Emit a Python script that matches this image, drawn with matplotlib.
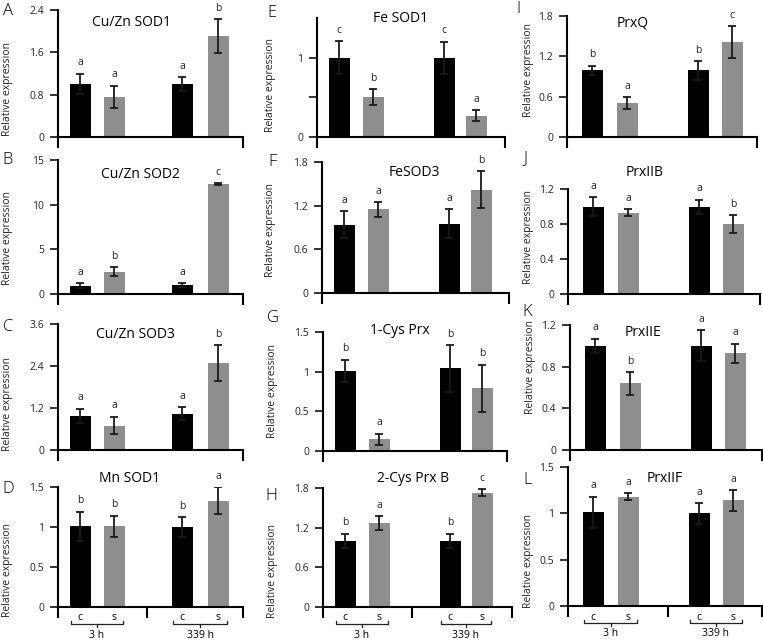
import matplotlib.pyplot as plt

plt.rcParams['font.family'] = ['Open Sans', 'DejaVu Sans']

# genes (panels A-L)
genes = ['Cu/Zn SOD1', 'Cu/Zn SOD2', 'Cu/Zn SOD3', 'Mn SOD1',
         'Fe SOD1', 'FeSOD3', '1-Cys Prx', '2-Cys Prx B',
         'PrxQ', 'PrxIIB', 'PrxIIE', 'PrxIIF']
panel_ids = ['A', 'B', 'C', 'D', 'E', 'F', 'G', 'H', 'I', 'J', 'K', 'L']
groups = ['3 h', '339 h']
treatments = ['c', 's']

# relative expression, control / stress at 3 h and 339 h
c3_mean = [1.01, 0.95, 0.97, 1.01, 1.00, 0.94, 1.01, 1.00, 0.99, 1.00, 1.00, 1.01]
s3_mean = [0.76, 2.50, 0.70, 1.01, 0.50, 1.15, 0.15, 1.27, 0.50, 0.93, 0.64, 1.18]
c339_mean = [1.00, 1.00, 1.04, 1.00, 1.00, 0.95, 1.04, 1.00, 0.99, 1.00, 1.00, 1.00]
s339_mean = [1.91, 12.30, 2.48, 1.33, 0.27, 1.42, 0.79, 1.73, 1.41, 0.80, 0.93, 1.14]

c3_err = [0.19, 0.25, 0.21, 0.18, 0.21, 0.18, 0.14, 0.11, 0.07, 0.11, 0.07, 0.17]
s3_err = [0.21, 0.50, 0.25, 0.13, 0.10, 0.10, 0.07, 0.10, 0.09, 0.04, 0.11, 0.04]
c339_err = [0.13, 0.20, 0.18, 0.12, 0.20, 0.20, 0.29, 0.11, 0.14, 0.08, 0.15, 0.11]
s339_err = [0.32, 0.12, 0.52, 0.17, 0.07, 0.25, 0.30, 0.05, 0.24, 0.10, 0.09, 0.11]

c3_sig = ['a', 'a', 'a', 'b', 'c', 'a', 'b', 'b', 'b', 'a', 'a', 'a']
s3_sig = ['a', 'b', 'a', 'b', 'b', 'a', 'a', 'a', 'a', 'a', 'b', 'a']
c339_sig = ['a', 'a', 'a', 'b', 'c', 'a', 'b', 'b', 'b', 'a', 'a', 'a']
s339_sig = ['b', 'c', 'b', 'a', 'a', 'b', 'b', 'c', 'c', 'b', 'a', 'a']

y_max = [2.4, 15, 3.6, 1.5, 1.5, 1.8, 1.5, 1.8, 1.8, 1.2, 1.2, 1.5]
y_ticks = [[0, 0.8, 1.6, 2.4], [0, 5, 10, 15], [0, 1.2, 2.4, 3.6], [0, 0.5, 1, 1.5],
           [0, 0.5, 1], [0, 0.6, 1.2, 1.8], [0, 0.5, 1, 1.5], [0, 0.6, 1.2, 1.8],
           [0, 0.6, 1.2, 1.8], [0, 0.4, 0.8, 1.2], [0, 0.4, 0.8, 1.2], [0, 0.5, 1, 1.5]]

# layout in pixels
W, H = 763, 642
spine_x = [58, 58, 58, 58, 317, 322, 323, 323, 567, 568, 570, 568]
zero_y = [137, 294, 450, 607, 137, 293, 451, 607, 137, 294, 450, 606]
top_y = [10, 160, 324, 487, 18, 162, 332, 488, 16, 189, 325, 467]
end_x = [243, 243, 243, 243, 505, 509, 507, 512, 757, 760, 762, 762]
bar_pos = [[22, 56, 124, 160], [22, 56, 127, 159], [25, 60, 131, 165]]
mid_tick = [89, 89, 100]
title_xy = [(131, 22), (140, 175), (135, 335), (130, 478), (401, 19), (414, 172),
            (400, 331), (413, 478), (633, 23), (645, 173), (643, 333), (665, 478)]
ylab_xy = [(8, 89), (8, 238), (8, 404), (8, 570), (271, 85), (271, 230),
           (272, 391), (272, 571), (529, 70), (529, 237), (530, 367), (529, 561)]
letter_xy = [(8, 11), (8, 160), (8, 327), (8, 489), (272, 13), (272, 162),
             (273, 318), (271, 496), (518, 9), (526, 158), (527, 312), (528, 480)]

black = '#000000'
gray = '#8e8e8e'

fig = plt.figure(figsize=(W / 100, H / 100), dpi=100)

for i in range(12):
    col = i // 4
    bottom_row = (i % 4 == 3)
    x0, x1 = spine_x[i], end_x[i]
    y0, y1 = zero_y[i], top_y[i]
    h_px = y0 - y1
    ax = fig.add_axes([x0 / W, 1 - y0 / H, (x1 - x0) / W, h_px / H])
    ax.set_xlim(0, x1 - x0)
    ax.set_ylim(0, y_max[i])

    pos = bar_pos[col]
    vals = [c3_mean[i], s3_mean[i], c339_mean[i], s339_mean[i]]
    errs = [c3_err[i], s3_err[i], c339_err[i], s339_err[i]]
    sigs = [c3_sig[i], s3_sig[i], c339_sig[i], s339_sig[i]]
    ax.bar(pos, vals, width=21, color=[black, gray, black, gray],
           yerr=errs, capsize=3,
           error_kw=dict(elinewidth=1.3, capthick=1.3, ecolor='#1a1a1a'))
    for p, v, e, s in zip(pos, vals, errs, sigs):
        ax.annotate(s, (p, v + e), xytext=(0, 6), textcoords='offset points',
                    ha='center', va='baseline', fontsize=7.5, color='#222222')

    for side in ['top', 'right']:
        ax.spines[side].set_visible(False)
    ax.spines['left'].set_linewidth(1.5)
    ax.spines['bottom'].set_linewidth(1.5)

    ax.set_yticks(y_ticks[i])
    if i == 4:
        ax.set_yticklabels(['0', '', '1'])
    else:
        ax.set_yticklabels([f'{t:g}' for t in y_ticks[i]])
    ax.tick_params(axis='y', direction='out', length=6, width=1.3,
                   labelsize=7.5, pad=4, colors='#222222')
    if bottom_row:
        ax.set_xticks([0, mid_tick[col], x1 - x0])
    else:
        ax.set_xticks([0, x1 - x0])
    ax.tick_params(axis='x', direction='out', length=8, width=1.5,
                   labelbottom=False)

    # group labels under the bottom panels
    if bottom_row:
        k = y_max[i] / h_px
        for g in range(2):
            pc, ps = pos[2 * g], pos[2 * g + 1]
            ax.text(pc, -11 * k, treatments[0], ha='center', va='center',
                    fontsize=7.5, clip_on=False)
            ax.text(ps, -11 * k, treatments[1], ha='center', va='center',
                    fontsize=7.5, clip_on=False)
            bl, br = pc - 9, ps + 9
            bm = (bl + br) / 2
            ax.plot([bl, bl, br, br], [-14 * k, -17 * k, -17 * k, -14 * k],
                    color='#222222', lw=0.9, clip_on=False)
            ax.plot([bm, bm], [-17 * k, -20 * k], color='#222222', lw=0.9,
                    clip_on=False)
            ax.text(bm, -28 * k, groups[g], ha='center', va='center',
                    fontsize=7.5, clip_on=False)

    tx, ty = title_xy[i]
    fig.text(tx / W, 1 - ty / H, genes[i], ha='center', va='center', fontsize=10)
    lx, ly = ylab_xy[i]
    fig.text(lx / W, 1 - ly / H, 'Relative expression', rotation=90,
             ha='center', va='center', fontsize=7.5, color='#222222')
    px, py = letter_xy[i]
    fig.text(px / W, 1 - py / H, panel_ids[i], ha='center', va='center',
             fontsize=12, fontweight='light')

fig.savefig('out.png', dpi=100)
